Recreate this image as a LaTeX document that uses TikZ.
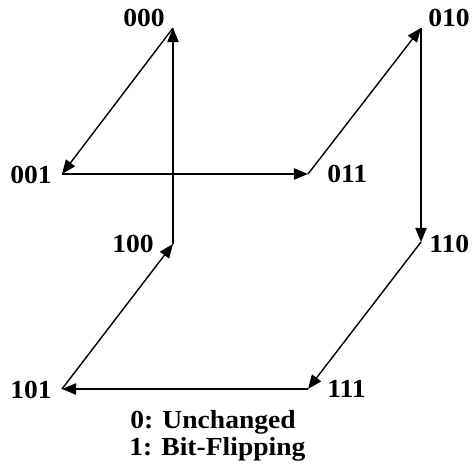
\documentclass[tikz,border=0pt]{standalone}
\usepackage{fontspec}
\setmainfont{Liberation Serif}[BoldFont={Liberation Serif Bold}, BoldFeatures={FakeStretch=1.06}]
\usetikzlibrary{arrows.meta}

\begin{document}
\begin{tikzpicture}[x=0.025cm, y=-0.025cm,
    state/.style={font=\fontsize{18.5}{20}\selectfont\bfseries, inner sep=0pt},
    flip/.style={-{Triangle[length=10pt,width=8pt]}, line width=1pt}]
    \useasboundingbox (0,0) rectangle (471,471);

    % Corners
    \coordinate (c000) at (173,28);
    \coordinate (c001) at (62,174);
    \coordinate (c011) at (308,174);
    \coordinate (c010) at (421,28);
    \coordinate (c100) at (173,244);
    \coordinate (c110) at (421,242);
    \coordinate (c101) at (62,389);
    \coordinate (c111) at (308,389);

    % Labels
    \node[state, anchor=east] (l000) at (165,18) {000};
    \node[state, anchor=east] (l001) at (52,174.5) {001};
    \node[state, anchor=west] (l011) at (327,174) {011};
    \node[state, anchor=west] (l010) at (428,18) {010};
    \node[state, anchor=east] (l100) at (154,244) {100};
    \node[state, anchor=west] (l110) at (429,243.5) {110};
    \node[state, anchor=east] (l101) at (52,389.5) {101};
    \node[state, anchor=west] (l111) at (327,389) {111};

    % Transitions
    \draw[flip] (c000) -- (c001);
    \draw[flip] (c001) -- (c011);
    \draw[flip] (c011) -- (c010);
    \draw[flip] (c010) -- (c110);
    \draw[flip] (c110) -- (c111);
    \draw[flip] (c111) -- (c101);
    \draw[flip] (c101) -- (c100);
    \draw[flip] (c100) -- (c000);

    % Legend
    \node[state, anchor=west] (key0) at (130,422) {0: Unchanged};
    \node[state, anchor=west] (key1) at (129,449) {1: Bit-Flipping};
\end{tikzpicture}
\end{document}
